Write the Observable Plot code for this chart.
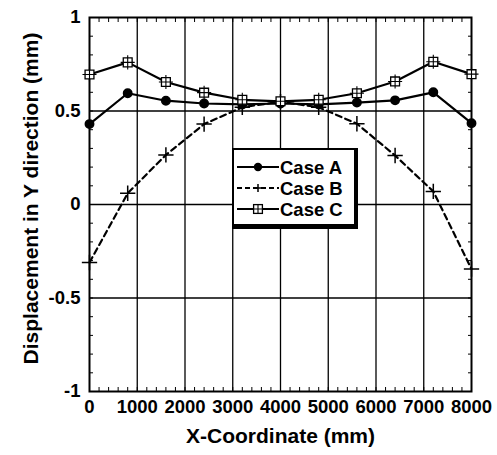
<!DOCTYPE html>
<html>
<head>
<meta charset="utf-8">
<script src="https://cdn.jsdelivr.net/npm/d3@7"></script>
<script src="https://cdn.jsdelivr.net/npm/@observablehq/plot@0.6"></script>
<style>
  body { margin: 0; background: #fff; }
  #chart { position: relative; width: 497px; height: 455px; font-family: "Liberation Sans", Arial, Helvetica, sans-serif; }
  #legend {
    position: absolute; left: 232px; top: 148px; width: 120px; height: 74px;
    background: #fff; border: 2px solid #000; border-right-width: 4px; border-bottom-width: 5px;
  }
  #legend svg { display: block; }
</style>
</head>
<body>
<div id="chart"></div>
<script>
// Node positions along the member (mm)
const xCoord = [0, 800, 1600, 2400, 3200, 4000, 4800, 5600, 6400, 7200, 8000];
// Vertical displacement (mm) for each load case
const caseA = [0.43, 0.595, 0.555, 0.54, 0.535, 0.54, 0.535, 0.545, 0.557, 0.60, 0.435];
const caseB = [-0.31, 0.06, 0.265, 0.43, 0.52, 0.55, 0.52, 0.432, 0.262, 0.07, -0.345];
const caseC = [0.695, 0.76, 0.655, 0.598, 0.56, 0.552, 0.56, 0.595, 0.658, 0.763, 0.697];
const seriesNames = ["Case A", "Case B", "Case C"];

// Axis ticks and labels
const xTicks = [0, 1000, 2000, 3000, 4000, 5000, 6000, 7000, 8000];
const xTickLabels = ["0", "1000", "2000", "3000", "4000", "5000", "6000", "7000", "8000"];
const yTicks = [-1, -0.5, 0, 0.5, 1];
const yTickLabels = ["-1", "-0.5", "0", "0.5", "1"];
const xMinor = d3.range(0, 8001, 200);
const yMinor = d3.range(-10, 11).map(d => d / 10);
const xTitle = "X-Coordinate (mm)";
const yTitle = "Displacement in Y direction (mm)";

const rows = xCoord.flatMap((x, i) => [
  {x, y: caseA[i], series: seriesNames[0]},
  {x, y: caseB[i], series: seriesNames[1]},
  {x, y: caseC[i], series: seriesNames[2]}
]);
const A = rows.filter(d => d.series === "Case A");
const B = rows.filter(d => d.series === "Case B");
const C = rows.filter(d => d.series === "Case C");

const font = "'Liberation Sans', Arial, Helvetica, sans-serif";
const minorOpts = {tickSize: -4, tickFormat: () => "", label: null, strokeWidth: 1};

const chart = Plot.plot({
  width: 497,
  height: 455,
  marginLeft: 89,
  marginRight: 26,
  marginTop: 17,
  marginBottom: 64,
  style: {fontFamily: font, fontWeight: "bold", color: "#000", background: "#fff"},
  x: {domain: [0, 8000]},
  y: {domain: [-1, 1]},
  marks: [
    Plot.gridX(xTicks.slice(1, -1), {stroke: "#000", strokeOpacity: 1, strokeWidth: 1.3}),
    Plot.gridY(yTicks.slice(1, -1), {stroke: "#000", strokeOpacity: 1, strokeWidth: 1.3}),
    Plot.axisX(xMinor, {anchor: "bottom", ...minorOpts}),
    Plot.axisX(xMinor, {anchor: "top", ...minorOpts}),
    Plot.axisY(yMinor, {anchor: "left", ...minorOpts}),
    Plot.axisY(yMinor, {anchor: "right", ...minorOpts}),
    Plot.axisX(xTicks, {anchor: "bottom", tickSize: 0, tickPadding: 8, fontSize: 18.5,
      tickFormat: (d, i) => xTickLabels[i], label: null}),
    Plot.axisY(yTicks, {anchor: "left", tickSize: 0, tickPadding: 9, fontSize: 18.5,
      tickFormat: (d, i) => yTickLabels[i], label: null}),
    Plot.text([xTitle], {frameAnchor: "bottom", dy: 51, fontSize: 21, fontWeight: "bold", fill: "#000"}),
    Plot.text([yTitle], {frameAnchor: "left", textAnchor: "middle", dx: -58, dy: -6, rotate: -90,
      fontSize: 21, fontWeight: "bold", fill: "#000"}),
    Plot.frame({stroke: "#000", strokeWidth: 2}),
    Plot.line(A, {x: "x", y: "y", stroke: "#000", strokeWidth: 2.2}),
    Plot.line(B, {x: "x", y: "y", stroke: "#000", strokeWidth: 2.2, strokeDasharray: "6,4"}),
    Plot.line(C, {x: "x", y: "y", stroke: "#000", strokeWidth: 2.2}),
    Plot.dot(A, {x: "x", y: "y", r: 4.2, fill: "#000", stroke: "#000"}),
    Plot.dot(B, {x: "x", y: "y", r: 5, symbol: "plus", stroke: "#000", strokeWidth: 1.5}),
    Plot.dot(C, {x: "x", y: "y", r: 5, symbol: "square", fill: "#fff", stroke: "#000", strokeWidth: 1.3}),
    Plot.dot(C, {x: "x", y: "y", r: 4.6, symbol: "plus", stroke: "#000", strokeWidth: 1.1})
  ]
});

const container = document.getElementById("chart");
container.appendChild(chart);

// Legend box inside the plotting area
const legend = document.createElement("div");
legend.id = "legend";
const ns = "http://www.w3.org/2000/svg";
const lsvg = document.createElementNS(ns, "svg");
lsvg.setAttribute("width", 120);
lsvg.setAttribute("height", 74);
const rowY = [17, 38, 59];
const el = (tag, attrs) => {
  const e = document.createElementNS(ns, tag);
  for (const k in attrs) e.setAttribute(k, attrs[k]);
  lsvg.appendChild(e);
  return e;
};
seriesNames.forEach((name, i) => {
  const y = rowY[i];
  el("line", {x1: 3, x2: 45, y1: y, y2: y, stroke: "#000", "stroke-width": 2,
    "stroke-dasharray": i === 1 ? "5,3" : "none"});
  if (i === 0) el("circle", {cx: 24, cy: y, r: 4.2, fill: "#000"});
  if (i === 1) el("path", {d: `M${24 - 4},${y}h8M24,${y - 4}v8`, stroke: "#000", "stroke-width": 1.5, fill: "none"});
  if (i === 2) {
    el("rect", {x: 24 - 4.4, y: y - 4.4, width: 8.8, height: 8.8, fill: "#fff", stroke: "#000", "stroke-width": 1.3});
    el("path", {d: `M${24 - 4.4},${y}h8.8M24,${y - 4.4}v8.8`, stroke: "#000", "stroke-width": 1.1, fill: "none"});
  }
  const t = el("text", {x: 46, y: y, "dominant-baseline": "central", "font-size": 18.5,
    "font-weight": "bold", "font-family": font, fill: "#000"});
  t.textContent = name;
});
legend.appendChild(lsvg);
container.appendChild(legend);
</script>
</body>
</html>
